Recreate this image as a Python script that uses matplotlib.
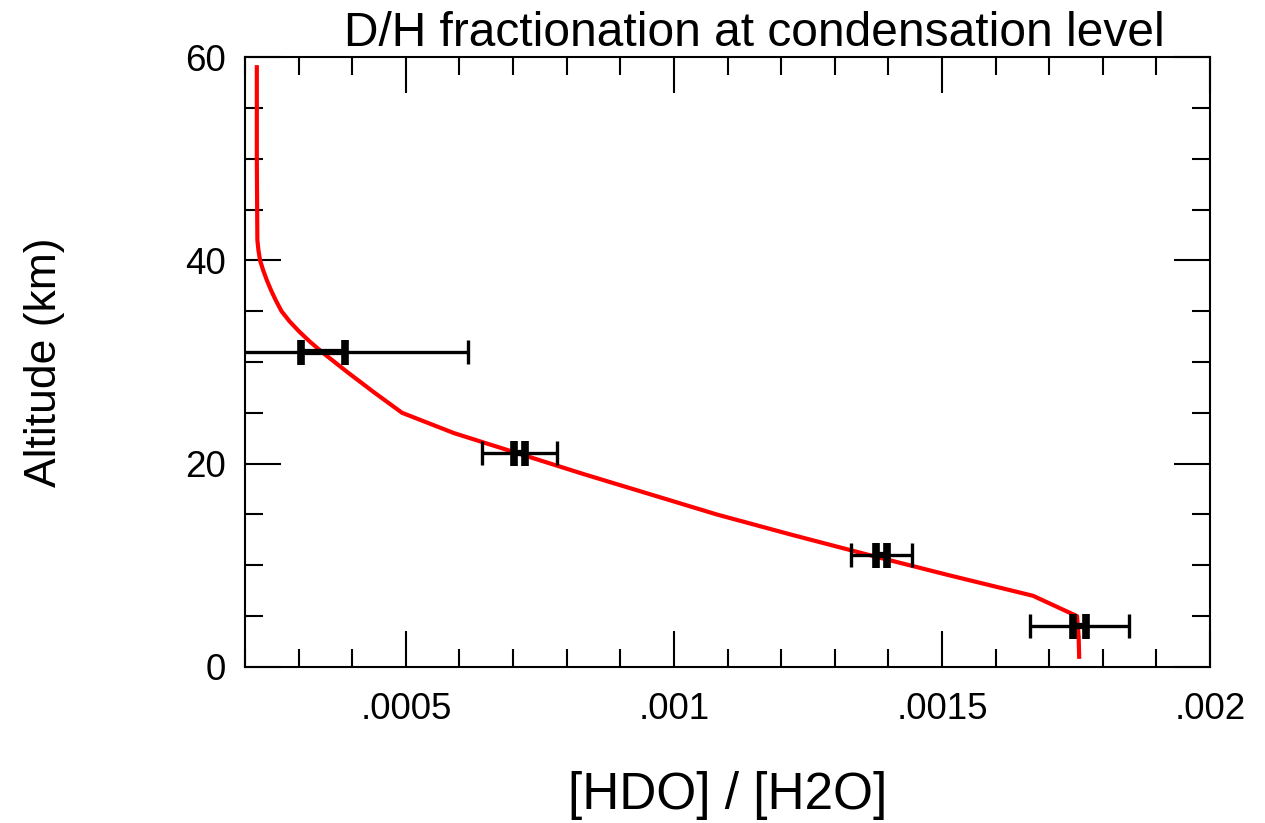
import matplotlib
matplotlib.use("Agg")
import matplotlib.pyplot as plt
from matplotlib.ticker import FuncFormatter, MultipleLocator

plt.rcParams["font.family"] = ["Liberation Sans", "DejaVu Sans"]

# model profile (red curve)
model_alt = [59, 50, 42, 41, 40, 39, 38, 37, 36, 35, 34, 33, 32, 31, 30, 29,
             28, 27, 26, 25, 23, 21, 19, 17, 15, 13, 11, 9, 7, 5, 3, 1]
model_ratio = [0.000222, 0.000222, 0.000223, 0.000225, 0.000228, 0.000234,
               0.000241, 0.000249, 0.000258, 0.000268, 0.000283, 0.000301,
               0.000321, 0.000343, 0.000367, 0.000391, 0.000416, 0.000441,
               0.000467, 0.000493, 0.000590, 0.000710, 0.000830, 0.000955,
               0.001080, 0.001220, 0.001365, 0.001515, 0.001670, 0.001752,
               0.001755, 0.001756]

# measurements
obs_alt = [31, 21, 11, 4]
obs_ratio = [0.000345, 0.000712, 0.001387, 0.001757]
obs_err_small = [0.000041, 0.000010, 0.000010, 0.000012]
obs_err_large = [0.000270, 0.000070, 0.000057, 0.000092]

fig = plt.figure(figsize=(12.65, 8.23), dpi=100)
ax = fig.add_axes([0.1937, 0.1896, 0.7628, 0.7411])

ax.plot(model_ratio, model_alt, color="red", lw=3, zorder=2)

ax.errorbar(obs_ratio, obs_alt, xerr=obs_err_large, fmt="none", ecolor="black",
            elinewidth=2.4, capsize=8.5, capthick=2.4, zorder=3)
ax.errorbar(obs_ratio, obs_alt, xerr=obs_err_small, fmt="none", ecolor="black",
            elinewidth=4.5, capsize=9, capthick=5.5, zorder=4)

ax.set_xlim(0.0002, 0.002)
ax.set_ylim(0, 60)

ax.xaxis.set_major_locator(MultipleLocator(0.0005))
ax.xaxis.set_minor_locator(MultipleLocator(0.0001))
ax.yaxis.set_major_locator(MultipleLocator(20))
ax.yaxis.set_minor_locator(MultipleLocator(5))


def strip_zero(v, pos):
    if abs(v) < 1e-12:
        return "0"
    s = f"{v:g}"
    return s[1:] if s.startswith("0.") else s


ax.xaxis.set_major_formatter(FuncFormatter(strip_zero))

ax.tick_params(which="both", direction="in", top=True, right=True,
               width=1.5, labelsize=26.5)
ax.tick_params(which="major", length=26)
ax.tick_params(which="minor", length=13)
ax.tick_params(axis="x", pad=18)
ax.tick_params(axis="y", pad=14)
for sp in ax.spines.values():
    sp.set_linewidth(1.5)

ax.set_title("D/H fractionation at condensation level", fontsize=34.5,
             pad=8, x=0.528)
ax.set_xlabel("[HDO] / [H2O]", fontsize=37, labelpad=32)
ax.set_ylabel("Altitude (km)", fontsize=32, labelpad=86)

fig.savefig("out.png", dpi=100)
